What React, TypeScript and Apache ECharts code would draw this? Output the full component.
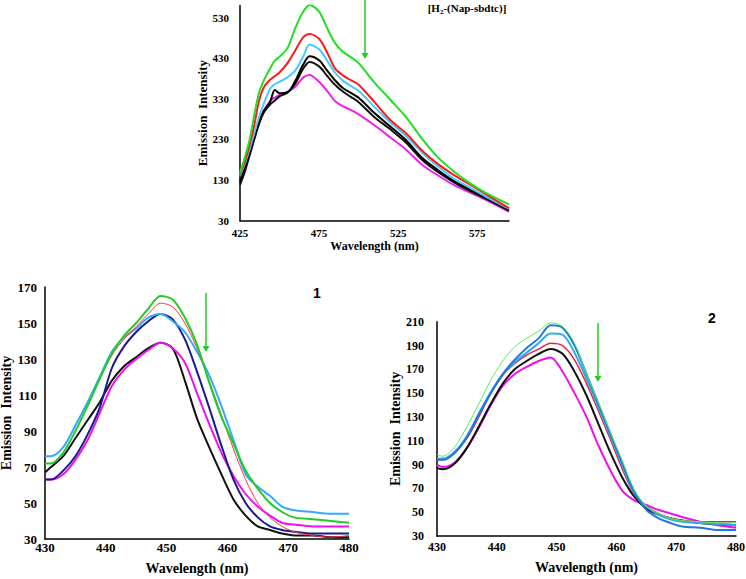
import React, { useEffect, useRef } from "react";
import * as echarts from "echarts";

// ---------- Top panel: [H2-(Nap-sbdtc)] ----------
const topWavelength = [425, 428, 431, 434, 437, 440, 444, 447, 450, 455, 460, 465, 469, 475, 480, 485, 490, 495, 500, 510, 520, 530, 540, 550, 560, 570, 580, 595];
const topGreen = [148, 185, 228, 290, 345, 375, 405, 424, 434, 455, 505, 545, 561, 545, 505, 468, 446, 433, 418, 370, 328, 285, 232, 186, 152, 123, 99, 70];
const topRed = [145, 175, 215, 265, 325, 358, 377, 386, 395, 418, 450, 482, 490, 478, 445, 405, 388, 376, 365, 322, 278, 245, 203, 170, 143, 120, 96, 61];
const topCyan = [143, 170, 205, 245, 285, 318, 355, 366, 372, 383, 400, 435, 464, 452, 425, 395, 375, 362, 350, 310, 272, 238, 198, 164, 134, 112, 90, 59];
const topBlackA = [126, 158, 195, 235, 272, 300, 322, 352, 344, 346, 375, 415, 435, 425, 400, 376, 357, 345, 333, 295, 262, 228, 185, 155, 128, 107, 87, 57];
const topBlackB = [118, 150, 190, 230, 268, 296, 316, 326, 336, 345, 368, 405, 421, 410, 387, 365, 348, 335, 322, 285, 255, 222, 180, 150, 125, 104, 85, 55];
const topMagenta = [140, 160, 195, 235, 272, 300, 325, 333, 340, 348, 360, 383, 389, 372, 350, 325, 312, 303, 292, 265, 235, 205, 168, 142, 118, 100, 82, 52];
const topXTicks = [425, 475, 525, 575];
const topYTicks = [30, 130, 230, 330, 430, 530];

// ---------- Panel 1 ----------
const p1Wavelength = [430, 431, 433, 435, 437, 439, 441, 443, 445, 447, 449, 451, 453, 455, 457, 459, 461, 463, 465, 467, 469, 471, 474, 477, 480];
const p1Cyan = [76, 76, 81, 93, 106, 120, 134, 142, 147, 153, 155, 151, 145, 134, 121, 104, 85, 66, 59, 54, 48, 46, 45, 44, 44];
const p1Green = [72, 72, 78, 90, 104, 119, 133, 143, 150, 158, 165, 163, 153, 138, 117, 98, 83, 68, 58, 50, 45, 42, 41, 40, 39];
const p1Red = [72, 72, 78, 90, 104, 119, 132, 141, 148, 155, 161, 159, 150, 136, 118, 99, 80, 63, 50, 42, 37, 34, 32, 31, 32];
const p1Navy = [63, 63, 68, 76, 88, 103, 125, 137, 145, 151, 155, 152, 141, 123, 103, 82, 63, 50, 42, 37, 35, 34, 33, 33, 33];
const p1Black = [67, 70, 76, 86, 96, 106, 118, 126, 131, 136, 139, 136, 118, 97, 81, 66, 52, 43, 37, 35, 33, 32, 32, 31, 31];
const p1Magenta = [63, 63, 66, 74, 85, 100, 115, 124, 130, 135, 139, 136, 128, 111, 94, 78, 65, 55, 48, 43, 39, 38, 37, 37, 37];
const p1XTicks = [430, 440, 450, 460, 470, 480];
const p1YTicks = [30, 50, 70, 90, 110, 130, 150, 170];

// ---------- Panel 2 ----------
const p2Wavelength = [430, 431, 433, 435, 437, 439, 441, 443, 445, 447, 449, 451, 453, 455, 457, 459, 461, 463, 465, 467, 469, 471, 474, 477, 480];
const p2Green = [98, 97, 105, 122, 141, 161, 177, 189, 196, 202, 209, 206, 192, 166, 142, 117, 93, 69, 55, 49, 45, 43, 42, 41, 41];
const p2Blue = [94, 94, 100, 113, 132, 150, 166, 178, 188, 196, 207, 205, 190, 166, 141, 116, 91, 67, 52, 45, 41, 38, 37, 35, 35];
const p2Cyan = [95, 95, 101, 114, 133, 151, 166, 176, 184, 192, 200, 199, 184, 162, 138, 114, 89, 66, 55, 48, 44, 42, 41, 40, 39];
const p2Red = [94, 94, 100, 112, 130, 150, 165, 175, 182, 187, 192, 190, 178, 158, 135, 111, 86, 65, 55, 49, 45, 43, 42, 42, 42];
const p2Black = [87, 86, 91, 104, 122, 141, 158, 170, 177, 183, 187, 183, 168, 148, 124, 100, 79, 63, 53, 48, 45, 43, 41, 40, 39];
const p2Magenta = [90, 88, 92, 104, 121, 140, 156, 166, 172, 177, 180, 168, 150, 130, 106, 85, 68, 60, 56, 52, 49, 46, 42, 39, 37];
const p2XTicks = [430, 440, 450, 460, 470, 480];
const p2YTicks = [30, 50, 70, 90, 110, 130, 150, 170, 190, 210];

const SERIF = "'Liberation Serif', 'Times New Roman', serif";
const SANS = "'Liberation Sans', Arial, sans-serif";

const pairs = (xs: number[], ys: number[]) => xs.map((x, i) => [x, ys[i]]);

function lineSeries(idx: number, xs: number[], ys: number[], color: string, width: number) {
  return {
    type: "line",
    xAxisIndex: idx,
    yAxisIndex: idx,
    data: pairs(xs, ys),
    showSymbol: false,
    symbol: "none",
    smooth: 0.3,
    lineStyle: { color, width },
    itemStyle: { color },
    silent: true,
  };
}

function xAxisCfg(idx: number, min: number, max: number, ticks: number[], fs: number, margin: number, nameFs: number, nameGap: number) {
  return {
    type: "value",
    gridIndex: idx,
    min,
    max,
    name: "Wavelength (nm)",
    nameLocation: "middle",
    nameGap,
    nameTextStyle: { fontFamily: SERIF, fontWeight: "bold", fontSize: nameFs, color: "#000" },
    axisLine: { show: true, onZero: false, lineStyle: { color: "#000", width: 1.5 } },
    axisTick: { show: false },
    splitLine: { show: false },
    axisLabel: { customValues: ticks, fontFamily: SERIF, fontWeight: "bold", fontSize: fs, color: "#000", margin },
  };
}

function yAxisCfg(idx: number, min: number, max: number, ticks: number[], fs: number, margin: number, nameFs: number, nameGap: number) {
  return {
    type: "value",
    gridIndex: idx,
    min,
    max,
    name: "Emission  Intensity",
    nameLocation: "middle",
    nameGap,
    nameTextStyle: { fontFamily: SERIF, fontWeight: "bold", fontSize: nameFs, color: "#000" },
    axisLine: { show: true, onZero: false, lineStyle: { color: "#000", width: 1.5 } },
    axisTick: { show: false },
    splitLine: { show: false },
    axisLabel: { customValues: ticks, fontFamily: SERIF, fontWeight: "bold", fontSize: fs, color: "#000", margin },
  };
}

function arrow(x: number, y1: number, y2: number) {
  const c = "#22CC22";
  return [
    { type: "line", shape: { x1: x, y1, x2: x, y2: y2 - 5 }, style: { stroke: c, lineWidth: 1.5 } },
    { type: "polygon", shape: { points: [[x - 3.5, y2 - 6], [x + 3.5, y2 - 6], [x, y2]] }, style: { fill: c } },
  ];
}

const option = {
  animation: false,
  backgroundColor: "#fff",
  grid: [
    { left: 240, top: 5.5, width: 269, height: 215.2, outerBoundsMode: "none" },
    { left: 45, top: 287, width: 304, height: 252, outerBoundsMode: "none" },
    { left: 437, top: 321.7, width: 299, height: 214.3, outerBoundsMode: "none" },
  ],
  xAxis: [
    xAxisCfg(0, 425, 595, topXTicks, 11, 7, 12, 15),
    xAxisCfg(1, 430, 480, p1XTicks, 13, 2, 14, 22),
    xAxisCfg(2, 430, 480, p2XTicks, 12, 5, 14, 24),
  ],
  yAxis: [
    yAxisCfg(0, 30, 560, topYTicks, 11, 11, 13, 30),
    yAxisCfg(1, 30, 170, p1YTicks, 13, 8, 14, 29),
    yAxisCfg(2, 30, 210, p2YTicks, 12, 13, 14, 32),
  ],
  series: [
    lineSeries(0, topWavelength, topMagenta, "#EE22EE", 2),
    lineSeries(0, topWavelength, topBlackB, "#111111", 2),
    lineSeries(0, topWavelength, topBlackA, "#000000", 2),
    lineSeries(0, topWavelength, topCyan, "#44CCFF", 2),
    lineSeries(0, topWavelength, topRed, "#FF1A1A", 2),
    lineSeries(0, topWavelength, topGreen, "#22DD22", 2),

    lineSeries(1, p1Wavelength, p1Black, "#111111", 2),
    lineSeries(1, p1Wavelength, p1Magenta, "#EE11EE", 2),
    lineSeries(1, p1Wavelength, p1Navy, "#1A1A8C", 2),
    lineSeries(1, p1Wavelength, p1Cyan, "#33AAFF", 2),
    lineSeries(1, p1Wavelength, p1Red, "#FF3344", 1),
    lineSeries(1, p1Wavelength, p1Green, "#22CC22", 2),

    lineSeries(2, p2Wavelength, p2Magenta, "#EE11EE", 2),
    lineSeries(2, p2Wavelength, p2Black, "#111111", 2),
    lineSeries(2, p2Wavelength, p2Red, "#EE2244", 1.5),
    lineSeries(2, p2Wavelength, p2Cyan, "#33AAEE", 2),
    lineSeries(2, p2Wavelength, p2Blue, "#2277DD", 2),
    lineSeries(2, p2Wavelength, p2Green, "#55EE55", 1),
  ],
  graphic: [
    {
      type: "text",
      x: 467,
      y: 8,
      style: {
        text: "[H{sub|2}-(Nap-sbdtc)]",
        fontFamily: SERIF,
        fontWeight: "bold",
        fontSize: 11,
        fill: "#000",
        align: "center",
        verticalAlign: "middle",
        rich: { sub: { fontFamily: SERIF, fontWeight: "bold", fontSize: 7, verticalAlign: "bottom", lineHeight: 14, fill: "#000" } },
      },
    },
    { type: "text", x: 317, y: 293, style: { text: "1", fontFamily: SANS, fontWeight: "bold", fontSize: 14, fill: "#000", align: "center", verticalAlign: "middle" } },
    { type: "text", x: 712, y: 318, style: { text: "2", fontFamily: SANS, fontWeight: "bold", fontSize: 14, fill: "#000", align: "center", verticalAlign: "middle" } },
    ...arrow(365, 0, 59),
    ...arrow(206, 293, 352),
    ...arrow(598, 323, 382),
  ],
};

export default function App() {
  const ref = useRef<HTMLDivElement>(null);
  useEffect(() => {
    if (!ref.current) return;
    const chart = echarts.init(ref.current, null, { renderer: "svg" });
    chart.setOption(option as any);
    return () => chart.dispose();
  }, []);
  return <div ref={ref} style={{ position: "fixed", left: 0, top: 0, width: 746, height: 579, background: "#fff" }} />;
}
